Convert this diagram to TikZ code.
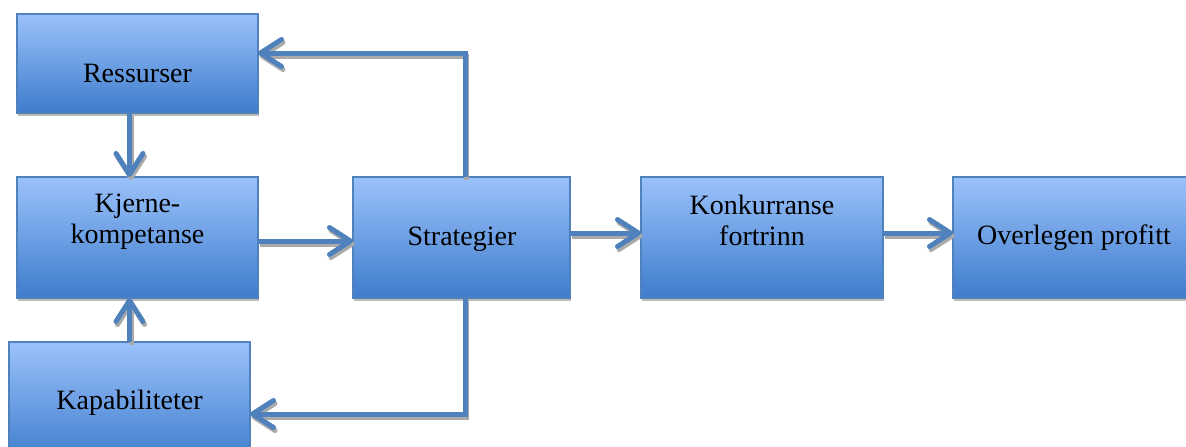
\documentclass[tikz,border=0pt]{standalone}
\usepackage{fontspec}
\setmainfont{Liberation Serif}
\usetikzlibrary{arrows.meta,shadows}
\definecolor{boxedge}{RGB}{79,129,189}
\definecolor{boxtop}{RGB}{155,194,251}
\definecolor{boxbottom}{RGB}{62,124,204}
\definecolor{linkcol}{RGB}{79,129,189}
\definecolor{shadecol}{RGB}{170,170,170}
\begin{document}
\begin{tikzpicture}[x=1pt,y=-1pt,
  block/.style={draw=boxedge, line width=1.5pt, top color=boxtop, bottom color=boxbottom,
    inner sep=0pt, outer sep=0pt,
    drop shadow={shadow xshift=0.5pt, shadow yshift=-3pt, fill=shadecol, opacity=0.8}},
  lbl/.style={font=\fontsize{28}{31}\selectfont, align=center, inner sep=0pt},
  tipshape/.style={-{Straight Barb[length=21pt,width=27pt,line cap=round,line join=round]}},
  link/.style={draw=linkcol, line width=5pt, line join=miter, tipshape,
    preaction={draw=shadecol, line width=5pt, tipshape, transform canvas={xshift=1.5pt,yshift=-3pt}}}]
\useasboundingbox (0,0) rectangle (1186,447);
\clip (0,0) rectangle (1186,447);

% boxes
\node[block, minimum width=241pt, minimum height=99pt]  (res) at (137.5,63.5) {};
\node[block, minimum width=241pt, minimum height=121pt] (kje) at (137.5,237.5) {};
\node[block, minimum width=241pt, minimum height=121pt] (kap) at (129.5,402.5) {};
\node[block, minimum width=217pt, minimum height=121pt] (str) at (461.5,237.5) {};
\node[block, minimum width=242pt, minimum height=121pt] (kon) at (762,237.5) {};
\node[block, minimum width=242pt, minimum height=121pt] (ove) at (1074,237.5) {};

% labels
\node[lbl, anchor=base] (resT) at (137.5,82) {Ressurser};
\node[lbl] (kjeT) at (137.5,222) {Kjerne-\\kompetanse};
\node[lbl, anchor=base] (kapT) at (129.5,409) {Kapabiliteter};
\node[lbl, anchor=base] (strT) at (462,245) {Strategier};
\node[lbl] (konT) at (762,220) {Konkurranse\\fortrinn};
\node[lbl, anchor=base] (oveT) at (1074,244) {Overlegen profitt};

% bend points and lanes of the connectors
\coordinate (vx) at (129.5,0);
\coordinate (h1) at (0,241);
\coordinate (h2) at (0,233);
\coordinate (up) at (465,53);
\coordinate (dn) at (465,414);

% connectors
\draw[link] (res.south -| vx) -- (kje.north -| vx);
\draw[link] (kap.north -| vx) -- (kje.south -| vx);
\draw[link] (kje.east |- h1) -- (str.west |- h1);
\draw[link] (str.east |- h2) -- (kon.west |- h2);
\draw[link] (kon.east |- h2) -- (ove.west |- h2);
\draw[link] (str.north -| up) -- (up) -- (res.east |- up);
\draw[link] (str.south -| dn) -- (dn) -- (kap.east |- dn);
\end{tikzpicture}
\end{document}
